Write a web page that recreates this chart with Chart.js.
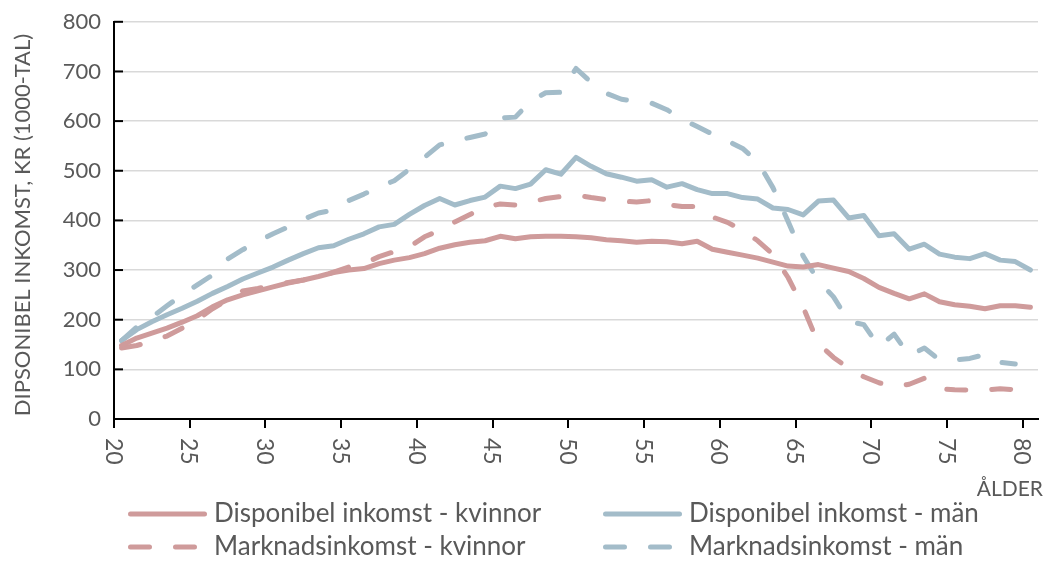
<!DOCTYPE html>
<html>
<head>
<meta charset="utf-8">
<script src="https://cdn.jsdelivr.net/npm/chart.js@4.4.0/dist/chart.umd.min.js"></script>
<style>
  html, body { margin: 0; padding: 0; background: #fff; }
</style>
</head>
<body>
<canvas id="chart" width="1046" height="562"></canvas>
<script>
// ages on the x axis
const ages = [20, 21, 22, 23, 24, 25, 26, 27, 28, 29,
  30, 31, 32, 33, 34, 35, 36, 37, 38, 39,
  40, 41, 42, 43, 44, 45, 46, 47, 48, 49,
  50, 51, 52, 53, 54, 55, 56, 57, 58, 59,
  60, 61, 62, 63, 64, 65, 66, 67, 68, 69,
  70, 71, 72, 73, 74, 75, 76, 77, 78, 79, 80];

// income in 1000 kr, one value per age
const dispKvinnor = [148, 163, 173, 183, 195, 208, 226, 240, 250, 258,
  266, 274, 280, 287, 295, 300, 303, 313, 320, 325,
  333, 344, 351, 356, 359, 368, 363, 367, 368, 368,
  367, 365, 361, 359, 356, 358, 357, 353, 358, 342,
  336, 330, 324, 316, 308, 306, 311, 304, 297, 283,
  265, 253, 242, 252, 236, 230, 227, 222, 228, 228, 225];

const dispMan = [158, 180, 196, 210, 223, 237, 253, 267, 282, 294,
  306, 320, 333, 345, 349, 362, 373, 387, 392, 412,
  430, 444, 431, 440, 447, 469, 464, 473, 502, 493,
  527, 509, 494, 487, 479, 482, 467, 474, 462, 454,
  454, 446, 443, 425, 422, 411, 439, 441, 405, 410,
  369, 373, 342, 352, 332, 326, 323, 333, 320, 317, 300];

const marknKvinnor = [143, 148, 157, 167, 183, 200, 222, 240, 258, 263,
  270, 275, 280, 286, 296, 306, 313, 327, 337, 347,
  367, 380, 397, 412, 427, 433, 431, 437, 444, 448,
  451, 446, 442, 439, 437, 440, 432, 428, 428, 407,
  396, 380, 359, 332, 285, 225, 152, 124, 102, 85,
  73, 65, 70, 82, 61, 59, 58, 58, 61, 59, null];

const marknMan = [158, 185, 205, 228, 250, 270, 290, 322, 341, 358,
  373, 387, 402, 415, 421, 440, 453, 467, 480, 503,
  527, 552, 560, 567, 574, 606, 608, 640, 657, 658,
  706, 678, 656, 644, 640, 636, 623, 604, 589, 574,
  560, 545, 518, 466, 398, 328, 278, 246, 197, 190,
  146, 171, 128, 143, 119, 119, 122, 130, 114, 111, null];

const yTitle = 'DIPSONIBEL INKOMST, KR (1000-TAL)';
const xTitle = 'ÅLDER';

const RED = '#CF9B9B';
const BLUE = '#A3BCC9';
const TXT = '#595959';
const FONT = 'Lato';
const DASH = [19, 26];

function line(label, data, color, dashed) {
  return {
    label: label,
    data: data,
    borderColor: color,
    backgroundColor: color,
    borderWidth: 5,
    borderDash: dashed ? DASH : [],
    borderCapStyle: 'round',
    borderJoinStyle: 'round',
    pointRadius: 0,
    tension: 0,
    fill: false,
    spanGaps: false
  };
}

// tick labels, axis names, inner y ticks and legend
const extras = {
  id: 'extras',
  afterDraw(chart) {
    const { ctx, chartArea } = chart;
    const x = chart.scales.x, y = chart.scales.y;
    ctx.save();

    ctx.strokeStyle = '#000';
    ctx.lineWidth = 2;
    y.ticks.forEach(t => {
      if (t.value === 0) return;
      const py = y.getPixelForValue(t.value);
      ctx.beginPath();
      ctx.moveTo(chartArea.left, py);
      ctx.lineTo(chartArea.left + 9, py);
      ctx.stroke();
    });

    const step = x.getPixelForValue(1) - x.getPixelForValue(0);
    ctx.font = '23px ' + FONT;
    ctx.fillStyle = TXT;
    ctx.textBaseline = 'middle';
    ctx.textAlign = 'left';
    ages.forEach((a, i) => {
      if (a % 5 !== 0) return;
      const px = x.getPixelForValue(i) - step / 2;
      ctx.save();
      ctx.translate(px, chartArea.bottom + 19);
      ctx.rotate(Math.PI / 2);
      ctx.fillText(String(a), 0, 1);
      ctx.restore();
    });

    ctx.font = '21px ' + FONT;
    ctx.textAlign = 'right';
    ctx.fillText(xTitle, 1043, 489);

    ctx.save();
    ctx.font = '22px ' + FONT;
    ctx.translate(23, 225);
    ctx.rotate(-Math.PI / 2);
    ctx.textAlign = 'center';
    ctx.fillText(yTitle, 0, 0);
    ctx.restore();

    // legend, two columns
    ctx.font = '26px ' + FONT;
    const spots = [[0, 128, 514], [1, 603, 514], [2, 128, 547], [3, 603, 547]];
    spots.forEach(([di, lx, ly]) => {
      const ds = chart.data.datasets[di];
      ctx.save();
      ctx.strokeStyle = ds.borderColor;
      ctx.lineWidth = 5;
      ctx.lineCap = 'round';
      ctx.setLineDash(ds.borderDash);
      ctx.beginPath();
      ctx.moveTo(lx + 2.5, ly);
      ctx.lineTo(lx + 76.5, ly);
      ctx.stroke();
      ctx.restore();
      ctx.textAlign = 'left';
      ctx.fillStyle = TXT;
      ctx.fillText(ds.label, lx + 86, ly);
    });

    ctx.restore();
  }
};

new Chart(document.getElementById('chart'), {
  type: 'line',
  data: {
    labels: ages,
    datasets: [
      line('Disponibel inkomst - kvinnor', dispKvinnor, RED, false),
      line('Disponibel inkomst - män', dispMan, BLUE, false),
      line('Marknadsinkomst - kvinnor', marknKvinnor, RED, true),
      line('Marknadsinkomst - män', marknMan, BLUE, true)
    ]
  },
  options: {
    responsive: false,
    animation: false,
    layout: { padding: { top: 20, right: 8, left: 0, bottom: 0 } },
    plugins: { legend: { display: false }, tooltip: { enabled: false } },
    scales: {
      x: {
        type: 'category',
        offset: true,
        grid: {
          offset: true,
          drawOnChartArea: false,
          drawTicks: true,
          tickLength: 9,
          lineWidth: 2,
          color: c => (c.tick && ages[c.tick.value] % 5 === 0) ? '#000' : 'rgba(0,0,0,0)'
        },
        border: { display: true, color: '#000', width: 2 },
        ticks: { display: false, autoSkip: false },
        afterFit: s => { s.height = 143; }
      },
      y: {
        min: 0,
        max: 800,
        ticks: {
          stepSize: 100,
          padding: 13,
          color: TXT,
          font: { family: FONT, size: 22, lineHeight: 0.8 }
        },
        grid: {
          drawTicks: false,
          lineWidth: 1.5,
          color: c => (c.tick && c.tick.value === 0) ? 'rgba(0,0,0,0)' : '#D9D9D9'
        },
        border: { display: true, color: '#000', width: 2 },
        afterFit: s => { s.width = 114; }
      }
    }
  },
  plugins: [extras]
});
</script>
</body>
</html>
